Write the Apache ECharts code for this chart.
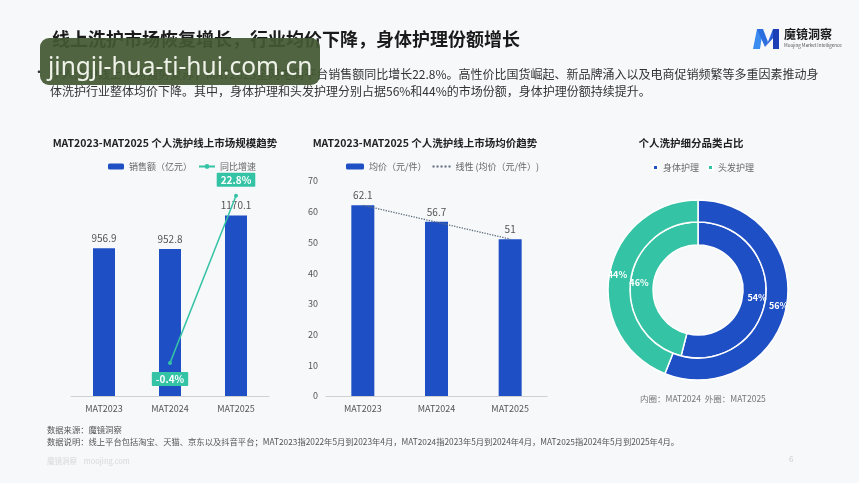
<!DOCTYPE html>
<html>
<head>
<meta charset="utf-8">
<script src="https://cdn.jsdelivr.net/npm/echarts@6/dist/echarts.min.js"></script>
<style>
html,body{margin:0;padding:0;background:#f7f8fa;}
#main{width:859px;height:483px;}
</style>
</head>
<body>
<div id="main"></div>
<script>
// ---- data ----
const categories = ['MAT2023', 'MAT2024', 'MAT2025'];
const salesValues = [956.9, 952.8, 1170.1];          // 销售额（亿元）
const growthValues = [null, -0.4, 22.8];             // 同比增速 %
const priceValues = [62.1, 56.7, 51];                // 均价（元/件）
const trendValues = [62.1, 56.6, 51.1];              // 线性 (均价)
const shareNames = ['身体护理', '头发护理'];
const share2024 = [54, 46];                          // inner ring
const share2025 = [56, 44];                          // outer ring

const BLUE = '#1f4fc4';
const TEAL = '#35c3a6';
const FONT = '"Noto Sans CJK SC","Noto Sans",sans-serif';

const chart = echarts.init(document.getElementById('main'), null, {renderer: 'canvas'});

const option = {
  backgroundColor: '#f7f8fa',
  textStyle: {fontFamily: FONT},
  animation: false,
  title: [
    {text: 'MAT2023-MAT2025 个人洗护线上市场规模趋势', left: 160, top: 133, textAlign: 'center',
     textStyle: {fontSize: 10.5, fontWeight: 'bold', color: '#222', fontFamily: FONT}},
    {text: 'MAT2023-MAT2025 个人洗护线上市场均价趋势', left: 420, top: 133, textAlign: 'center',
     textStyle: {fontSize: 10.5, fontWeight: 'bold', color: '#222', fontFamily: FONT}},
    {text: '个人洗护细分品类占比', left: 686, top: 133, textAlign: 'center',
     textStyle: {fontSize: 10.5, fontWeight: 'bold', color: '#222', fontFamily: FONT}}
  ],
  legend: [
    {data: ['销售额（亿元）', '同比增速'], left: 103, top: 157, itemWidth: 16, itemHeight: 6, itemGap: 6,
     textStyle: {fontSize: 9, color: '#666'}},
    {data: ['均价（元/件）', {name: '线性 (均价（元/件）)', itemStyle: {opacity: 0}}], left: 341, top: 157,
     itemWidth: 18, itemHeight: 6, itemGap: 5,
     textStyle: {fontSize: 9, color: '#666'}},
    {data: shareNames, left: 647, top: 158, icon: 'rect', itemWidth: 5, itemHeight: 5, itemGap: 8,
     textStyle: {fontSize: 9, color: '#666'}}
  ],
  grid: [
    {left: 71, width: 198, top: 180, height: 216},
    {left: 326, width: 221, top: 181, height: 215}
  ],
  xAxis: [
    {type: 'category', gridIndex: 0, data: categories,
     axisLine: {lineStyle: {color: '#d0d0d0'}}, axisTick: {show: false},
     axisLabel: {fontSize: 9, color: '#555', margin: 8}},
    {type: 'category', gridIndex: 1, data: categories,
     axisLine: {lineStyle: {color: '#d0d0d0'}}, axisTick: {show: false},
     axisLabel: {fontSize: 9, color: '#555', margin: 8}}
  ],
  yAxis: [
    {type: 'value', gridIndex: 0, min: 0, max: 1400, show: false, splitLine: {show: false}},
    {type: 'value', gridIndex: 0, min: -5, max: 25, show: false, splitLine: {show: false}},
    {type: 'value', gridIndex: 1, min: 0, max: 70, interval: 10, position: 'left',
     axisLine: {show: false}, axisTick: {show: false}, splitLine: {show: false},
     axisLabel: {fontSize: 9, color: '#555', margin: 8}}
  ],
  series: [
    {name: '销售额（亿元）', type: 'bar', xAxisIndex: 0, yAxisIndex: 0, data: salesValues,
     barWidth: 22, itemStyle: {color: BLUE},
     label: {show: true, position: 'top', fontSize: 10, color: '#555', distance: 5}},
    {name: '同比增速', type: 'line', xAxisIndex: 0, yAxisIndex: 1,
     symbol: 'circle', symbolSize: 4, itemStyle: {color: TEAL}, lineStyle: {color: TEAL, width: 1.5},
     label: {show: true, formatter: p => p.value + '%', color: '#fff', fontWeight: 'bold', fontSize: 10,
       backgroundColor: TEAL, padding: [2, 4], borderRadius: 1},
     data: growthValues.map(v => v === null ? null :
       {value: v, label: {position: v < 0 ? 'bottom' : 'top', distance: 7}})},
    {name: '均价（元/件）', type: 'bar', xAxisIndex: 1, yAxisIndex: 2, data: priceValues,
     barWidth: 23, itemStyle: {color: BLUE},
     label: {show: true, position: 'top', fontSize: 10, color: '#555', distance: 5}},
    {name: '线性 (均价（元/件）)', type: 'line', xAxisIndex: 1, yAxisIndex: 2, data: trendValues,
     symbol: 'none', lineStyle: {color: '#5b6b7c', width: 1.3, type: 'dotted'}, itemStyle: {color: '#5b6b7c'}},
    {name: 'MAT2024', type: 'pie', center: [698, 290], radius: [45, 68], startAngle: 90, clockwise: true,
     data: shareNames.map((n, i) => ({name: n, value: share2024[i]})),
     color: [BLUE, TEAL], itemStyle: {borderColor: '#fff', borderWidth: 1.5},
     label: {show: true, position: 'inside', formatter: '{c}%', color: '#fff', fontWeight: 'bold', fontSize: 9},
     labelLine: {show: false}, emphasis: {disabled: true}},
    {name: 'MAT2025', type: 'pie', center: [698, 290], radius: [68, 90], startAngle: 90, clockwise: true,
     data: shareNames.map((n, i) => ({name: n, value: share2025[i]})),
     color: [BLUE, TEAL], itemStyle: {borderColor: '#fff', borderWidth: 1.5},
     label: {show: true, position: 'inside', formatter: '{c}%', color: '#fff', fontWeight: 'bold', fontSize: 9},
     labelLine: {show: false}, emphasis: {disabled: true}}
  ],
  graphic: [
    // main title
    {type: 'text', left: 52, top: 30, style: {text: '线上洗护市场恢复增长，行业均价下降，身体护理份额增长',
      fontSize: 18, fontWeight: 'bold', fill: '#1a1a1a', fontFamily: FONT}},
    // bullet text
    {type: 'text', left: 33, top: 66, style: {text: '•', fontSize: 12, fill: '#333', fontFamily: FONT}},
    {type: 'text', left: 50, top: 68, style: {text: '个人洗护线上市场强势复苏，MAT2025全网电商平台销售额同比增长22.8%。高性价比国货崛起、新品牌涌入以及电商促销频繁等多重因素推动身',
      fontSize: 12, fill: '#333', fontFamily: FONT}},
    {type: 'text', left: 50, top: 85, style: {text: '体洗护行业整体均价下降。其中，身体护理和头发护理分别占据56%和44%的市场份额，身体护理份额持续提升。',
      fontSize: 12, fill: '#333', fontFamily: FONT}},
    // logo
    {type: 'polygon', shape: {points: [[753, 49], [757, 29], [763, 29], [760, 49]]}, style: {fill: '#3b8cf0'}},
    {type: 'polygon', shape: {points: [[757, 29], [763, 29], [768, 42], [765, 47]]}, style: {fill: '#2a6ee0'}},
    {type: 'polygon', shape: {points: [[765, 47], [768, 42], [773, 29], [775, 36]]}, style: {fill: '#2a5fd6'}},
    {type: 'polygon', shape: {points: [[773, 29], [779, 29], [779, 49], [773, 49]]}, style: {fill: '#1c3fb6'}},
    {type: 'text', left: 784, top: 28, style: {text: '魔镜洞察', fontSize: 12, fontWeight: 'bold', fill: '#1a1a1a', fontFamily: FONT}},
    {type: 'text', left: 784, top: 43, style: {text: 'Moojing Market Intelligence', fontSize: 4.5, fill: '#555', fontFamily: FONT}},
    // pie note
    {type: 'text', left: 640, top: 395, style: {text: '内圈：MAT2024  外圈：MAT2025', fontSize: 8.5, fill: '#777', fontFamily: FONT}},
    // footer
    {type: 'text', left: 47, top: 426, style: {text: '数据来源：魔镜洞察', fontSize: 8.3, fill: '#555', fontFamily: FONT}},
    {type: 'text', left: 47, top: 438, style: {text: '数据说明：线上平台包括淘宝、天猫、京东以及抖音平台；MAT2023指2022年5月到2023年4月，MAT2024指2023年5月到2024年4月，MAT2025指2024年5月到2025年4月。',
      fontSize: 8.3, fill: '#555', fontFamily: FONT}},
    {type: 'text', left: 47, top: 457, style: {text: '魔镜洞察    moojing.com', fontSize: 7.5, fill: '#d8d8d8', fontFamily: FONT}},
    {type: 'text', left: 789, top: 455, style: {text: '6', fontSize: 8, fill: '#ccc', fontFamily: FONT}},
    // watermark
    {type: 'rect', shape: {x: 40, y: 38, width: 280, height: 47, r: 9}, style: {fill: 'rgba(68,88,52,0.93)'}, z: 100},
    {type: 'text', left: 48, top: 56, z: 101, style: {text: 'jingji-hua-ti-hui.com.cn', fontSize: 24.5, fill: '#eef2e8',
      fontFamily: '"Noto Sans",sans-serif'}}
  ]
};
chart.setOption(option);
</script>
</body>
</html>
